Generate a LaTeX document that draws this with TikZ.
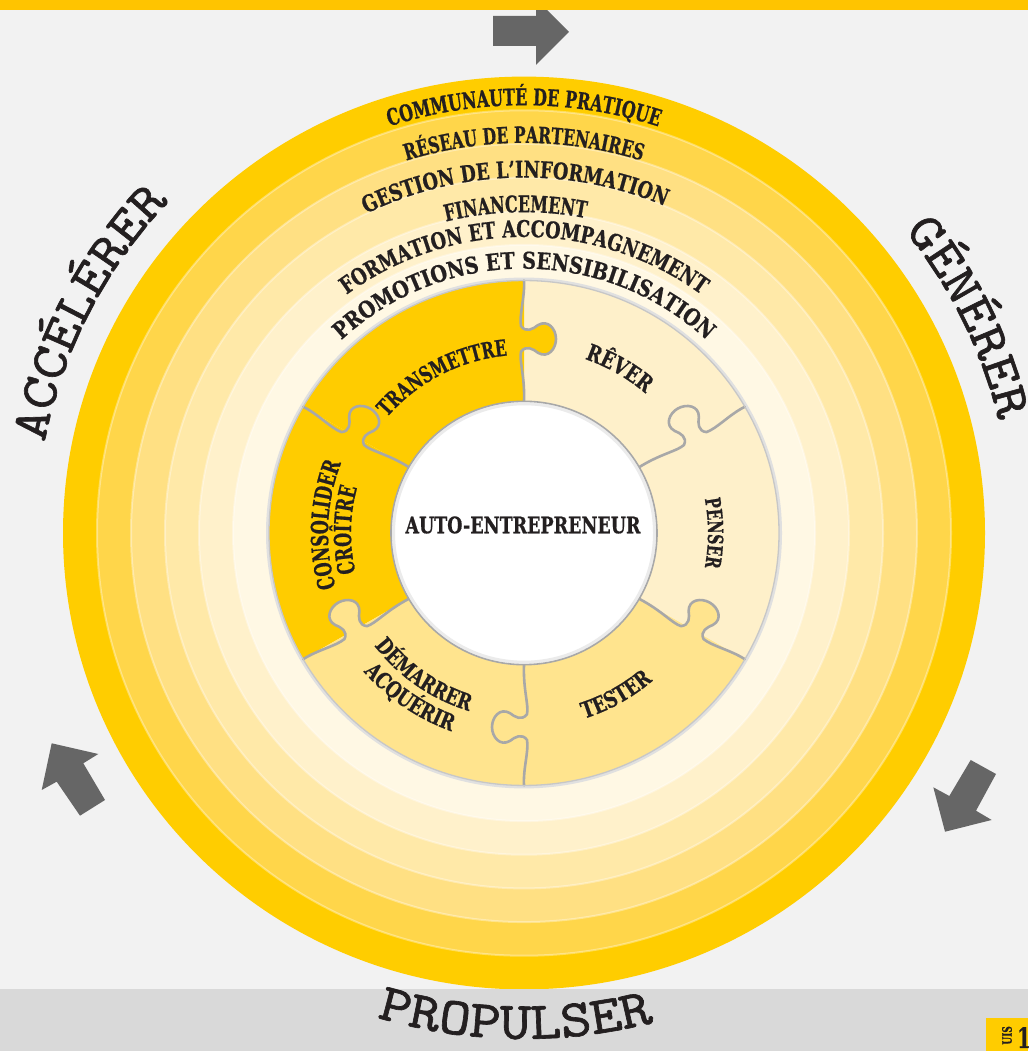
\documentclass[tikz,border=0pt]{standalone}
\usepackage{fontspec}
\usetikzlibrary{decorations.text}
\newfontfamily\slabA[FakeStretch=0.69, FakeBold=0.7]{DejaVu Serif}
\newfontfamily\slabB[FakeStretch=0.77, FakeBold=0.7]{DejaVu Serif}
\newfontfamily\slabC[FakeStretch=0.835, FakeBold=0.7]{DejaVu Serif}
\newfontfamily\typew[FakeBold=1.2, FakeStretch=1.12]{lmmono10-regular.otf}
\newcommand\fA[1]{\slabA\bfseries\fontsize{#1}{#1}\selectfont}
\newcommand\fB[1]{\slabB\bfseries\fontsize{#1}{#1}\selectfont}
\newcommand\fC[1]{\slabC\bfseries\fontsize{#1}{#1}\selectfont}
\newcommand\fT[1]{\typew\fontsize{#1}{#1}\selectfont}
\definecolor{bg}{HTML}{F2F2F2}
\definecolor{topbar}{HTML}{FFC400}
\definecolor{band}{HTML}{D9D9D9}
\definecolor{ra}{HTML}{FFCD00}
\definecolor{rb}{HTML}{FFD64A}
\definecolor{rc}{HTML}{FFE083}
\definecolor{rd}{HTML}{FFE9A8}
\definecolor{re}{HTML}{FFF1CB}
\definecolor{rf}{HTML}{FFF8E4}
\definecolor{pY}{HTML}{FFCC00}
\definecolor{pM}{HTML}{FFE48E}
\definecolor{pL}{HTML}{FEF0CA}
\definecolor{jgrey}{HTML}{A8A8A8}
\definecolor{arrowgrey}{HTML}{666666}
\definecolor{ink}{HTML}{231F20}
\tikzset{
  jointline/.style={draw=jgrey, line width=2.6pt, line join=round, line cap=round},
  greyarrow/.style={fill=arrowgrey},
  ringglow/.style={draw=white, draw opacity=0.35, line width=2pt},
}
% text on a clockwise arc: radius, centre angle, half span, font, text
\newcommand\cwtext[5]{\path[decorate, decoration={text along path, text align=center, text color=ink, text={|#4|#5}}] ({#2+#3}:#1) arc[start angle={#2+#3}, end angle={#2-#3}, radius=#1];}
% text on a counter-clockwise arc
\newcommand\ccwtext[5]{\path[decorate, decoration={text along path, text align=center, text color=ink, text={|#4|#5}}] ({#2-#3}:#1) arc[start angle={#2-#3}, end angle={#2+#3}, radius=#1];}
\newcommand\piece[3]{\fill[#3] (#1:255pt) arc[start angle=#1, end angle=#2, radius=255pt] -- (#2:133pt) arc[start angle=#2, end angle=#1, radius=133pt] -- cycle;}
\newcommand\joint[3]{%
  \begin{scope}[rotate=#1, yscale=#2]
    \fill[#3] (183pt,-3pt) .. controls (190pt,2pt) and (186pt,9pt) .. (182pt,14pt) .. controls (176pt,24pt) and (186pt,32pt) .. (196pt,32pt) .. controls (206pt,32pt) and (216pt,24pt) .. (210pt,14pt) .. controls (206pt,9pt) and (202pt,2pt) .. (209pt,-3pt) -- cycle;
    \draw[jointline] (133pt,0pt) .. controls (158pt,1pt) and (174pt,-5pt) .. (183pt,-3pt) .. controls (190pt,2pt) and (186pt,9pt) .. (182pt,14pt) .. controls (176pt,24pt) and (186pt,32pt) .. (196pt,32pt) .. controls (206pt,32pt) and (216pt,24pt) .. (210pt,14pt) .. controls (206pt,9pt) and (202pt,2pt) .. (209pt,-3pt) .. controls (220pt,-5pt) and (238pt,1pt) .. (255pt,0pt);
  \end{scope}}
\begin{document}
\begin{tikzpicture}[x=1pt,y=1pt]
\useasboundingbox (0,0) rectangle (1028,1051);
\fill[bg] (0,0) rectangle (1028,1051);
% arrows
\fill[greyarrow] (493,1035) -- (536,1035) -- (536,1052) -- (569,1019) -- (536,986) -- (536,1005) -- (493,1005) -- cycle;
\fill[topbar] (0,1041) rectangle (1028,1051);
\fill[greyarrow] (51.7,307.7) -- (98.3,297) -- (83.3,287.7) -- (105,251) -- (80,235.3) -- (56.7,269.3) -- (41.7,261) -- cycle;
\fill[greyarrow] (945,219.3) -- (933.3,263.7) -- (949.3,255) -- (970.7,291) -- (996,277) -- (976,240.3) -- (991.7,231) -- cycle;
\begin{scope}[shift={(524,518)}, yscale=0.99]
  \fill[ra] (0,0) circle[radius=461pt];
  \fill[rb] (0,0) circle[radius=427pt];
  \fill[rc] (0,0) circle[radius=393pt];
  \fill[rd] (0,0) circle[radius=359pt];
  \fill[re] (0,0) circle[radius=325pt];
  \fill[rf] (0,0) circle[radius=291pt];
  \foreach \r in {427,393,359,325,291} {\draw[ringglow] (0,0) circle[radius=\r pt];}
  % puzzle pieces
  \draw[black!12, line width=3pt] (0,0) circle[radius=256.5pt];
  \piece{30}{90}{pL}
  \piece{90}{150}{pY}
  \piece{150}{210}{pY}
  \piece{210}{270}{pM}
  \piece{270}{330}{pM}
  \piece{-30}{30}{pL}
  \joint{90}{-1}{pY}
  \joint{30}{1}{pL}
  \joint{-30}{1}{pM}
  \joint{-90}{-1}{pM}
  \joint{210}{-1}{pM}
  \joint{150}{-1}{pY}
  \draw[black!22, line width=1.3pt] (0,0) circle[radius=255pt];
  \fill[white] (0,0) circle[radius=133pt];
  \draw[black!8, line width=3pt] (0,0) circle[radius=130.5pt];
  \draw[jgrey, line width=1.6pt] (0,0) circle[radius=133pt];
  % ring texts
  \cwtext{432pt}{90}{80}{\fA{23}}{COMMUNAUTÉ DE PRATIQUE}
  \cwtext{394pt}{90}{80}{\fA{22.5}}{RÉSEAU DE PARTENAIRES}
  \cwtext{359pt}{91.5}{80}{\fB{23}}{GESTION DE L’INFORMATION}
  \cwtext{324pt}{91.5}{80}{\fA{23}}{FINANCEMENT}
  \cwtext{299pt}{90}{80}{\fB{23}}{FORMATION ET ACCOMPAGNEMENT}
  \cwtext{267pt}{90}{80}{\fC{23}}{PROMOTIONS ET SENSIBILISATION}
  % puzzle texts
  \cwtext{180pt}{117.5}{45}{\fA{22.5}}{TRANSMETTRE}
  \cwtext{186pt}{60}{40}{\fB{23}}{RÊVER}
  \cwtext{184pt}{0}{40}{\fA{21}}{PENSER}
  \ccwtext{197pt}{-60.6}{40}{\fB{22.4}}{TESTER}
  \ccwtext{188pt}{235}{40}{\fB{22.4}}{DÉMARRER}
  \ccwtext{213pt}{235.5}{40}{\fB{22.4}}{ACQUÉRIR}
  \cwtext{196pt}{177.6}{40}{\fA{23.5}}{CONSOLIDER}
  \cwtext{173pt}{179}{40}{\fA{23.5}}{CROÎTRE}
  % outer words
  \cwtext{488pt}{153}{40}{\fT{52}}{ACCÉLÉRER}
  \cwtext{488pt}{26}{40}{\fT{52}}{GÉNÉRER}
\end{scope}
\node[text=ink, font=\fB{22.7}] (centre) at (523,526) {AUTO-ENTREPRENEUR};
\fill[band] (0,0) rectangle (1028,62);
\begin{scope}[shift={(524,518)}, yscale=0.99]
  \ccwtext{511pt}{269}{40}{\fT{53}}{PROPULSER}
\end{scope}
% logo corner
\fill[pY] (985.7,0) rectangle (1028,33);
\node[rotate=90, anchor=east, inner sep=0pt, text=ink, font=\fA{13}] (logoa) at (1007,25) {UIS};
\node[anchor=north west, inner sep=0pt, text=ink, font=\fA{28}] (logob) at (1017,24) {1};
\end{tikzpicture}
\end{document}
